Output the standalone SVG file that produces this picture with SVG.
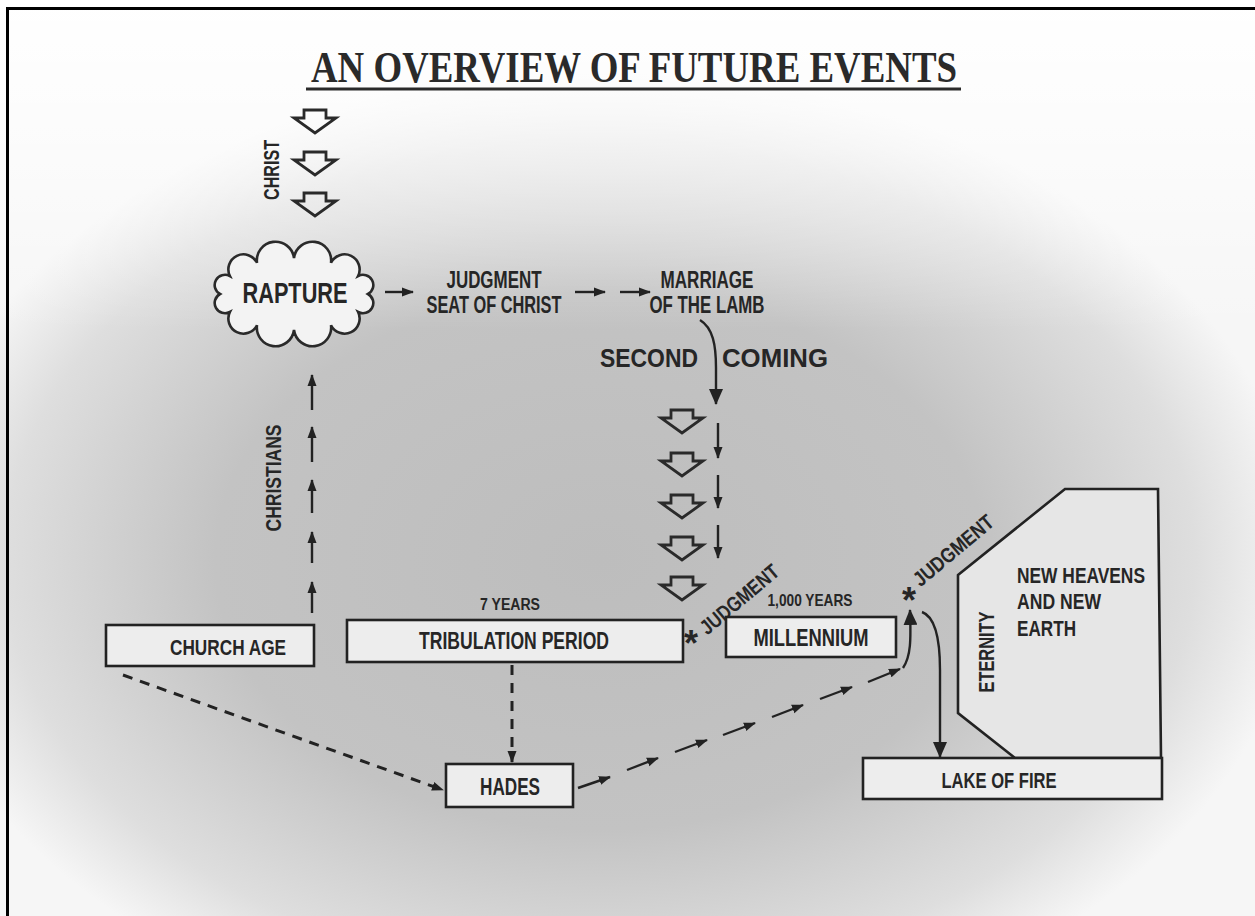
<svg xmlns="http://www.w3.org/2000/svg" width="1255" height="916" viewBox="0 0 1255 916">
<defs>
<radialGradient id="bg" cx="600" cy="560" r="700" gradientUnits="userSpaceOnUse" gradientTransform="translate(600 560) scale(1 0.7) translate(-600 -560)">
<stop offset="0" stop-color="#bdbdbd"/>
<stop offset="0.55" stop-color="#c3c3c3"/>
<stop offset="0.85" stop-color="#dedede"/>
<stop offset="1" stop-color="#f6f6f6"/>
</radialGradient>
<linearGradient id="topfade" x1="0" y1="0" x2="0" y2="1">
<stop offset="0" stop-color="#ffffff" stop-opacity="1"/>
<stop offset="0.45" stop-color="#ffffff" stop-opacity="0.6"/>
<stop offset="1" stop-color="#ffffff" stop-opacity="0"/>
</linearGradient>
<marker id="ah" viewBox="0 0 12 10" refX="11" refY="5" markerWidth="12" markerHeight="10" markerUnits="userSpaceOnUse" orient="auto">
<path d="M0,0.5 L12,5 L0,9.5 Z" fill="#222"/>
</marker>
<marker id="ahb" viewBox="0 0 16 14" refX="15" refY="7" markerWidth="16" markerHeight="14" markerUnits="userSpaceOnUse" orient="auto">
<path d="M0,0 L16,7 L0,14 Z" fill="#222"/>
</marker>
<path id="hollow" d="M-11,0 H11 V8 H21 L0,23 L-21,8 H-11 Z" fill="none" stroke="#2a2a2a" stroke-width="2.8" stroke-linejoin="miter"/>
<style>
.t{font-family:"Liberation Sans",Arial,sans-serif;font-weight:bold;fill:#262626}
.box{fill:#ededed;stroke:#222;stroke-width:2.6}
.ln{fill:none;stroke:#222;stroke-width:2.4}
.dash{fill:none;stroke:#222;stroke-width:3;stroke-dasharray:10 8}
</style>
</defs>

<rect x="0" y="0" width="1255" height="916" fill="url(#bg)"/>
<rect x="0" y="0" width="1255" height="330" fill="url(#topfade)"/>
<rect x="7.5" y="8.5" width="1262" height="920" fill="none" stroke="#000" stroke-width="3"/>

<g id="title">
<text x="634" y="82" text-anchor="middle" font-family="Liberation Serif,Times New Roman,serif" font-weight="bold" font-size="44" fill="#2a2a2a" textLength="646" lengthAdjust="spacingAndGlyphs">AN OVERVIEW OF FUTURE EVENTS</text>
<line x1="306" y1="89" x2="961" y2="89" stroke="#2a2a2a" stroke-width="3"/>
</g>

<g id="christ">
<use href="#hollow" x="315" y="110"/>
<use href="#hollow" x="315" y="152"/>
<use href="#hollow" x="315" y="193"/>
<text class="t" transform="translate(279 170) rotate(-90)" text-anchor="middle" font-size="22" textLength="60" lengthAdjust="spacingAndGlyphs">CHRIST</text>
</g>

<g id="rapture">
<path d="M368,294 A1,1 0 0 0 358.1,276 A1,1 0 0 0 331,262.8 A1,1 0 0 0 294,258 A1,1 0 0 0 257,262.8 A1,1 0 0 0 229.9,276 A1,1 0 0 0 220,294 A1,1 0 0 0 229.9,312 A1,1 0 0 0 257,325.2 A1,1 0 0 0 294,330 A1,1 0 0 0 331,325.2 A1,1 0 0 0 358.1,312 A1,1 0 0 0 368,294 Z" fill="#f3f3f3" stroke="#2a2a2a" stroke-width="2.6"/>
<text class="t" x="295" y="303" text-anchor="middle" font-size="29" textLength="105" lengthAdjust="spacingAndGlyphs">RAPTURE</text>
</g>

<g id="judgment-seat">
<text class="t" x="494" y="288" text-anchor="middle" font-size="23" textLength="95" lengthAdjust="spacingAndGlyphs">JUDGMENT</text>
<text class="t" x="494" y="313" text-anchor="middle" font-size="23" textLength="135" lengthAdjust="spacingAndGlyphs">SEAT OF CHRIST</text>
</g>

<g id="marriage">
<text class="t" x="707" y="288" text-anchor="middle" font-size="23" textLength="93" lengthAdjust="spacingAndGlyphs">MARRIAGE</text>
<text class="t" x="707" y="313" text-anchor="middle" font-size="23" textLength="115" lengthAdjust="spacingAndGlyphs">OF THE LAMB</text>
</g>

<g id="second-coming">
<text class="t" x="600" y="367" font-size="26" textLength="98" lengthAdjust="spacingAndGlyphs">SECOND</text>
<text class="t" x="722" y="367" font-size="26" textLength="106" lengthAdjust="spacingAndGlyphs">COMING</text>
<use href="#hollow" x="682" y="410"/>
<use href="#hollow" x="682" y="453"/>
<use href="#hollow" x="682" y="495"/>
<use href="#hollow" x="682" y="537"/>
<use href="#hollow" x="682" y="577"/>
</g>

<g id="christians">
<text class="t" transform="translate(281 478) rotate(-90)" text-anchor="middle" font-size="22" textLength="107" lengthAdjust="spacingAndGlyphs">CHRISTIANS</text>
</g>

<g id="church-age">
<rect class="box" x="106" y="625" width="208" height="41"/>
<text class="t" x="228" y="655" text-anchor="middle" font-size="22" textLength="116" lengthAdjust="spacingAndGlyphs">CHURCH AGE</text>
</g>

<g id="tribulation">
<text class="t" x="510" y="610" text-anchor="middle" font-size="16" textLength="60" lengthAdjust="spacingAndGlyphs">7 YEARS</text>
<rect class="box" x="347" y="620" width="336" height="42"/>
<text class="t" x="514" y="649" text-anchor="middle" font-size="23" textLength="190" lengthAdjust="spacingAndGlyphs">TRIBULATION PERIOD</text>
<text class="t" x="691" y="656" text-anchor="middle" font-size="36">*</text>
<text class="t" transform="translate(744 605) rotate(-40)" text-anchor="middle" font-size="21" textLength="96" lengthAdjust="spacingAndGlyphs">JUDGMENT</text>
</g>

<g id="millennium">
<text class="t" x="810" y="606" text-anchor="middle" font-size="17" textLength="85" lengthAdjust="spacingAndGlyphs">1,000 YEARS</text>
<rect class="box" x="726" y="617" width="170" height="40"/>
<text class="t" x="811" y="646" text-anchor="middle" font-size="23" textLength="115" lengthAdjust="spacingAndGlyphs">MILLENNIUM</text>
<text class="t" x="909" y="613" text-anchor="middle" font-size="36">*</text>
<text class="t" transform="translate(958 556) rotate(-40)" text-anchor="middle" font-size="21" textLength="98" lengthAdjust="spacingAndGlyphs">JUDGMENT</text>
</g>

<g id="eternity">
<path d="M958,575 L1065,489 L1158,489 L1161,758 L1015,758 L958,713 Z" fill="#e6e6e6" stroke="#222" stroke-width="2.6" stroke-linejoin="miter"/>
<text class="t" transform="translate(994 652) rotate(-90)" text-anchor="middle" font-size="22" textLength="81" lengthAdjust="spacingAndGlyphs">ETERNITY</text>
<text class="t" x="1017" y="583" font-size="22" textLength="128" lengthAdjust="spacingAndGlyphs">NEW HEAVENS</text>
<text class="t" x="1017" y="609" font-size="22" textLength="84" lengthAdjust="spacingAndGlyphs">AND NEW</text>
<text class="t" x="1017" y="636" font-size="22" textLength="59" lengthAdjust="spacingAndGlyphs">EARTH</text>
</g>

<g id="lake-of-fire">
<rect class="box" x="863" y="758" width="299" height="41"/>
<text class="t" x="999" y="788" text-anchor="middle" font-size="22" textLength="115" lengthAdjust="spacingAndGlyphs">LAKE OF FIRE</text>
</g>

<g id="hades">
<rect class="box" x="446" y="764" width="127" height="43"/>
<text class="t" x="510" y="795" text-anchor="middle" font-size="23" textLength="60" lengthAdjust="spacingAndGlyphs">HADES</text>
</g>

<g id="connectors">
<path class="ln" d="M385,292 L413,292" marker-end="url(#ah)"/>
<path class="ln" d="M575,292 L605,292" marker-end="url(#ah)"/>
<path class="ln" d="M620,292 L650,292" marker-end="url(#ah)"/>
<path class="ln" stroke-width="3" d="M700,320 C713,328 716,345 716,368 L716,404" marker-end="url(#ahb)"/>
<path class="ln" d="M718,423 L718,458" marker-end="url(#ah)"/>
<path class="ln" d="M718,475 L718,508" marker-end="url(#ah)"/>
<path class="ln" d="M718,525 L718,558" marker-end="url(#ah)"/>
<path class="ln" d="M312,410 L312,375" marker-end="url(#ah)"/>
<path class="ln" d="M312,462 L312,427" marker-end="url(#ah)"/>
<path class="ln" d="M312,513 L312,480" marker-end="url(#ah)"/>
<path class="ln" d="M312,563 L312,532" marker-end="url(#ah)"/>
<path class="ln" d="M312,613 L312,582" marker-end="url(#ah)"/>
<path class="dash" d="M123,675 L443,790" marker-end="url(#ah)"/>
<path class="dash" d="M512,665 L512,762" marker-end="url(#ah)"/>
<path class="ln" d="M578,788 L610,777" marker-end="url(#ah)"/>
<path class="ln" d="M627,770 L658,758" marker-end="url(#ah)"/>
<path class="ln" d="M675,752 L707,740" marker-end="url(#ah)"/>
<path class="ln" d="M723,735 L755,723" marker-end="url(#ah)"/>
<path class="ln" d="M772,717 L803,705" marker-end="url(#ah)"/>
<path class="ln" d="M820,699 L852,687" marker-end="url(#ah)"/>
<path class="ln" d="M868,682 L900,669" marker-end="url(#ah)"/>
<path class="ln" stroke-width="3" d="M903,668 C911,656 911,640 910,610" marker-end="url(#ahb)"/>
<path class="ln" stroke-width="3" d="M922,612 C936,617 940,640 940,670 L940,757" marker-end="url(#ahb)"/>
</g>
</svg>
